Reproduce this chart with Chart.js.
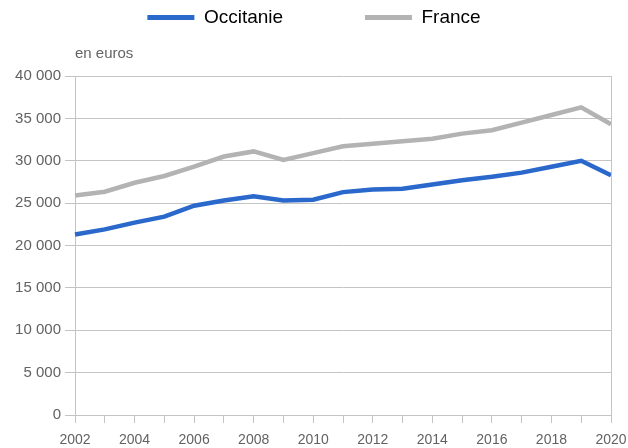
<!DOCTYPE html>
<html lang="fr">
<head>
  <meta charset="UTF-8">
  <title>Occitanie / France</title>
  <style>
    html, body { margin: 0; padding: 0; background: #fff; }
    .wrap { width: 628px; height: 448px; }
  </style>
</head>
<body>
  <div class="wrap"><canvas id="chart"></canvas></div>
  <script src="https://cdn.jsdelivr.net/npm/chart.js@4"></script>
  <script>
    const years = ['2002', '2003', '2004', '2005', '2006', '2007', '2008', '2009', '2010', '2011',
      '2012', '2013', '2014', '2015', '2016', '2017', '2018', '2019', '2020'];
    const occitanie = [21300, 21900, 22700, 23400, 24700, 25300, 25800, 25300, 25400, 26300,
      26600, 26700, 27200, 27700, 28100, 28600, 29300, 30000, 28300];
    const france = [25900, 26350, 27400, 28200, 29300, 30500, 31100, 30100, 30900, 31700,
      32000, 32300, 32600, 33200, 33600, 34500, 35400, 36300, 34300];
    const unitLabel = 'en euros';

    const blue = '#2a68cc';
    const grey = '#b3b3b3';
    const gridColor = '#c4c4c4';
    const textColor = '#626262';

    Chart.defaults.font.family = '"Liberation Sans", Arial, sans-serif';
    Chart.defaults.color = textColor;

    function fmt(v) {
      return String(v).replace(/\B(?=(\d{3})+(?!\d))/g, ' ');
    }

    // right-hand frame line of the plot area
    const rightBorder = {
      id: 'rightBorder',
      afterDatasetsDraw(chart) {
        const { ctx, chartArea } = chart;
        ctx.save();
        ctx.strokeStyle = gridColor;
        ctx.lineWidth = 1;
        ctx.beginPath();
        ctx.moveTo(Math.round(chartArea.right) + 0.5, chartArea.top);
        ctx.lineTo(Math.round(chartArea.right) + 0.5, chartArea.bottom + 8);
        ctx.stroke();
        ctx.restore();
      }
    };

    const ctx = document.querySelector('#chart').getContext('2d');
    new Chart(ctx, {
      type: 'line',
      data: {
        labels: years,
        datasets: [
          { label: 'Occitanie', data: occitanie, borderColor: blue, backgroundColor: blue,
            borderWidth: 4.5, pointRadius: 0, tension: 0 },
          { label: 'France', data: france, borderColor: grey, backgroundColor: grey,
            borderWidth: 4.5, pointRadius: 0, tension: 0 }
        ]
      },
      options: {
        responsive: true,
        maintainAspectRatio: false,
        animation: false,
        layout: { padding: 0 },
        plugins: {
          legend: {
            position: 'top',
            labels: {
              boxWidth: 47,
              boxHeight: 5,
              padding: 8,
              color: '#646464',
              font: { size: 19 },
              generateLabels(chart) {
                return chart.data.datasets.map((ds, i) => ({
                  // trailing spaces widen the gap between the two entries
                  text: i === 0 ? ds.label + '\u00a0'.repeat(14) : ds.label,
                  fillStyle: ds.borderColor,
                  strokeStyle: ds.borderColor,
                  lineWidth: 0,
                  datasetIndex: i,
                  hidden: false
                }));
              }
            }
          },
          subtitle: {
            display: true,
            text: unitLabel,
            align: 'start',
            fullSize: false,
            weight: 500,
            color: '#646464',
            font: { size: 15, weight: 'normal' },
            padding: { top: 8, bottom: 13 }
          },
          tooltip: { enabled: false }
        },
        scales: {
          x: {
            offset: false,
            afterFit(scale) {
              scale.height = 33;
              scale.paddingRight = 17;
            },
            grid: { drawOnChartArea: false, drawTicks: true, tickLength: 8, color: gridColor },
            border: { color: gridColor },
            ticks: {
              autoSkip: false,
              maxRotation: 0,
              padding: 9,
              font: { size: 14 },
              callback(value, index) {
                return index % 2 === 0 ? years[index] : '';
              }
            }
          },
          y: {
            min: 0,
            max: 40000,
            afterFit(scale) { scale.width = 75; },
            grid: { color: gridColor, tickLength: 10 },
            border: { color: gridColor },
            ticks: {
              stepSize: 5000,
              padding: 4,
              font: { size: 15 },
              callback(v) { return fmt(v); }
            }
          }
        }
      },
      plugins: [rightBorder]
    });
  </script>
</body>
</html>
